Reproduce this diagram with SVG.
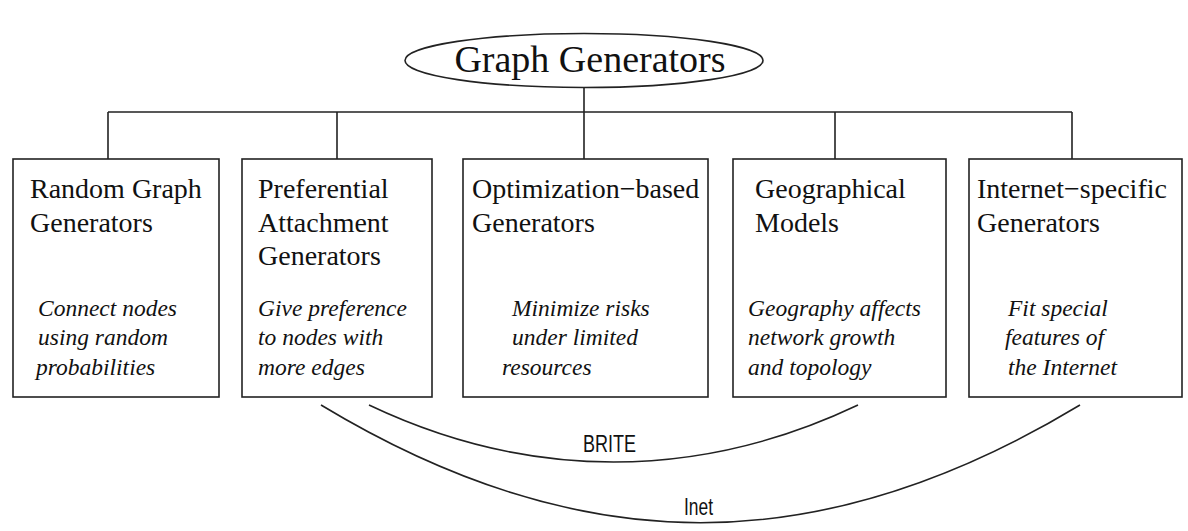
<svg xmlns="http://www.w3.org/2000/svg" width="1188" height="531" viewBox="0 0 1188 531">
<style>
.box{fill:#fff;stroke:#222;stroke-width:1.6}
.ln{fill:none;stroke:#222;stroke-width:1.6}
.t{font-family:"Liberation Serif",serif;font-size:28px;fill:#111}
.i{font-family:"Liberation Serif",serif;font-size:23.5px;font-style:italic;fill:#111}
.s{font-family:"Liberation Sans",sans-serif;font-size:23px;fill:#111}
</style>
<rect width="1188" height="531" fill="#fff"/>
<g id="connectors">
<path class="ln" d="M584,88 V159 M108,112 H1072 M108,112 V159 M337,112 V159 M835,112 V159 M1072,112 V159"/>
<path class="ln" d="M369,405 C529,481 698,481 858,405"/>
<path class="ln" d="M321,405 C581,562 820,562 1080,405"/>
<text class="s" x="583" y="452" textLength="53" lengthAdjust="spacingAndGlyphs">BRITE</text>
<text class="s" x="684" y="515" textLength="29" lengthAdjust="spacingAndGlyphs">Inet</text>
</g>
<g id="root">
<ellipse cx="584" cy="60.5" rx="179" ry="27" fill="#fff" stroke="#222" stroke-width="1.6"/>
<text x="590" y="72" font-family="Liberation Serif, serif" font-size="38" text-anchor="middle" fill="#111">Graph Generators</text>
</g>
<g id="random">
<rect class="box" x="13" y="159" width="206" height="238"/>
<text class="t" x="30" y="198">Random Graph</text>
<text class="t" x="30" y="232">Generators</text>
<text class="i" x="38" y="316">Connect nodes</text>
<text class="i" x="38" y="345">using random</text>
<text class="i" x="36" y="375">probabilities</text>
</g>
<g id="preferential">
<rect class="box" x="242" y="159" width="190" height="238"/>
<text class="t" x="258" y="198">Preferential</text>
<text class="t" x="258" y="232">Attachment</text>
<text class="t" x="258" y="265">Generators</text>
<text class="i" x="258" y="316">Give preference</text>
<text class="i" x="258" y="345">to nodes with</text>
<text class="i" x="258" y="375">more edges</text>
</g>
<g id="optimization">
<rect class="box" x="463" y="159" width="245" height="238"/>
<text class="t" x="472" y="198">Optimization−based</text>
<text class="t" x="472" y="232">Generators</text>
<text class="i" x="512" y="316">Minimize risks</text>
<text class="i" x="512" y="345">under limited</text>
<text class="i" x="502" y="375">resources</text>
</g>
<g id="geographical">
<rect class="box" x="733" y="159" width="213" height="238"/>
<text class="t" x="755" y="198">Geographical</text>
<text class="t" x="755" y="232">Models</text>
<text class="i" x="748" y="316">Geography affects</text>
<text class="i" x="748" y="345">network growth</text>
<text class="i" x="748" y="375">and topology</text>
</g>
<g id="internet">
<rect class="box" x="969" y="159" width="213" height="238"/>
<text class="t" x="977" y="198">Internet−specific</text>
<text class="t" x="977" y="232">Generators</text>
<text class="i" x="1008" y="316">Fit special</text>
<text class="i" x="1005" y="345">features of</text>
<text class="i" x="1008" y="375">the Internet</text>
</g>
</svg>
